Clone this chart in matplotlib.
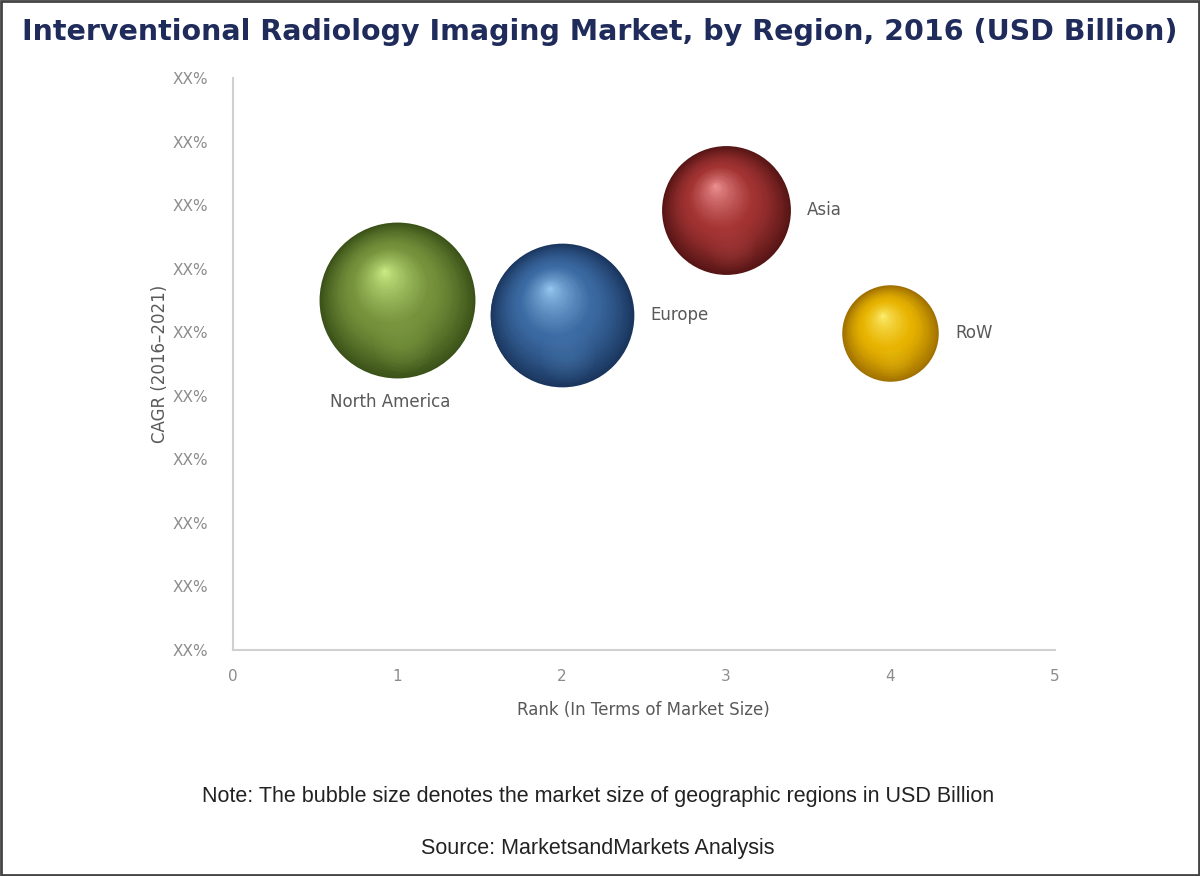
import numpy as np
import matplotlib.pyplot as plt
from matplotlib import transforms
from matplotlib.colors import to_rgb
from matplotlib.patches import Rectangle

# data
regions = ['North America', 'Europe', 'Asia', 'RoW']
rank = [1, 2, 3, 4]
cagr = [5.5, 5.27, 6.92, 4.98]           # placeholder scale, labels are masked "XX%"
market_size = [3.0, 2.55, 2.05, 1.15]    # USD billion
y_ticks = list(range(10))
y_tick_labels = ['XX%'] * 10
x_ticks = [0, 1, 2, 3, 4, 5]

# dark edge, base, highlight
palette = {
    'North America': ('#3a5218', '#76933c', '#d2f58c'),
    'Europe': ('#1a365e', '#3b6aa3', '#9fd0f7'),
    'Asia': ('#561515', '#a33333', '#f59a9a'),
    'RoW': ('#a07000', '#e8b400', '#fff27a'),
}

bubble_k = 32.4   # radius in points = k * sqrt(size)

fig = plt.figure(figsize=(12, 8.76), dpi=100)
ax = fig.add_axes([0.194, 0.258, 0.685, 0.653])


def mix(c1, c2, f):
    a, b = np.array(to_rgb(c1)), np.array(to_rgb(c2))
    return tuple(a + (b - a) * f)


for name, x, y, v in zip(regions, rank, cagr, market_size):
    dark, base, light = palette[name]
    r = bubble_k * np.sqrt(v)
    hx, hy = -0.17 * r, 0.38 * r
    n = 60
    for i in range(n):
        t = 1 - i / n
        if t > 0.5:
            c = mix(base, dark, ((t - 0.5) / 0.5) ** 1.4)
        else:
            c = mix(light, base, (t / 0.5) ** 0.7)
        tr = transforms.offset_copy(ax.transData, fig=fig,
                                    x=(1 - t) * hx, y=(1 - t) * hy, units='points')
        ax.scatter([x], [y], s=(2 * r * t) ** 2, color=c, transform=tr,
                   linewidths=0, zorder=3 + i * 0.01)
    # faint reflection near the bottom
    for k in range(6):
        tr = transforms.offset_copy(ax.transData, fig=fig, x=0.08 * r, y=-0.55 * r, units='points')
        ax.scatter([x], [y], s=(0.75 * r * (1 - k / 7)) ** 2, color=mix(base, light, 0.3),
                   alpha=0.05, transform=tr, linewidths=0, zorder=4)

    if name == 'North America':
        ax.annotate(name, (x, y), xytext=(-5, -(r + 17)), textcoords='offset points',
                    ha='center', va='center', fontsize=12, color='#595959')
    else:
        ax.annotate(name, (x, y), xytext=(r + 12, 0), textcoords='offset points',
                    ha='left', va='center', fontsize=12, color='#595959')

ax.set_xlim(0, 5)
ax.set_ylim(0, 9)
ax.set_xticks(x_ticks)
ax.set_yticks(y_ticks)
ax.set_yticklabels(y_tick_labels)
ax.tick_params(length=0, labelsize=11, labelcolor='#8c8c8c')
ax.tick_params(axis='x', pad=14)
ax.tick_params(axis='y', pad=18)
for s in ['top', 'right']:
    ax.spines[s].set_visible(False)
for s in ['left', 'bottom']:
    ax.spines[s].set_color('#d0d0d0')
    ax.spines[s].set_linewidth(1.5)
ax.set_xlabel('Rank (In Terms of Market Size)', fontsize=12, color='#595959', labelpad=12)
ax.set_ylabel('CAGR (2016–2021)', fontsize=12, color='#595959', labelpad=2)

fig.text(0.5, 0.963, 'Interventional Radiology Imaging Market, by Region, 2016 (USD Billion)',
         ha='center', va='center', fontsize=20.5, fontweight='bold', color='#1f2b5b')
fig.text(0.498, 0.091, 'Note: The bubble size denotes the market size of geographic regions in USD Billion',
         ha='center', va='center', fontsize=15.5, color='#222222', family='Liberation Sans')
fig.text(0.498, 0.031, 'Source: MarketsandMarkets Analysis',
         ha='center', va='center', fontsize=15.5, color='#222222', family='Liberation Sans')

fig.add_artist(Rectangle((0.001, 0.001), 0.998, 0.998, transform=fig.transFigure,
                         fill=False, edgecolor='#444444', linewidth=2))

fig.savefig('out.png', dpi=100)
